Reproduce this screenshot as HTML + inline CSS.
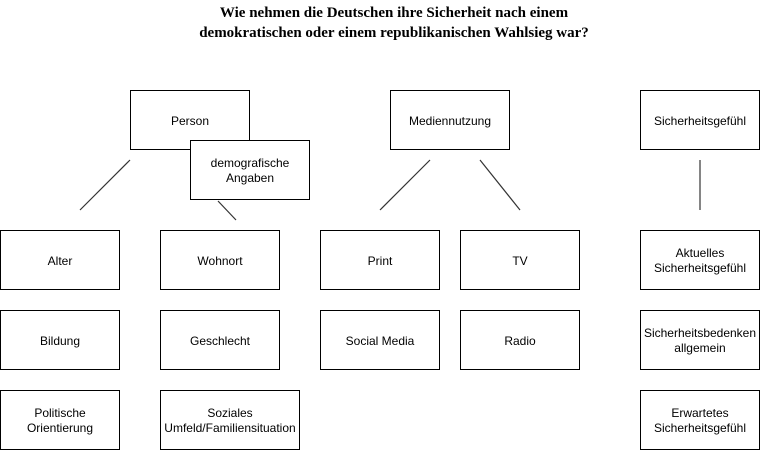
<!DOCTYPE html>
<html><head><meta charset="utf-8"><style>
body{margin:0;background:#fff;width:761px;height:451px;overflow:hidden;position:relative;font-family:"Liberation Sans",Arial,sans-serif}
.t{position:absolute;left:94px;width:600px;text-align:center;font:bold 15px/20px "Liberation Serif",serif;top:3px;color:#000}
.b{position:absolute;width:118px;height:58px;border:1px solid #000;background:#fff;display:flex;align-items:center;justify-content:center;text-align:center;font-size:12px;line-height:15px;color:#000;white-space:nowrap}
.b span{position:relative;top:1px}
svg{position:absolute;left:0;top:0}
</style></head><body>
<div class="t">Wie nehmen die Deutschen ihre Sicherheit nach einem<br>demokratischen oder einem republikanischen Wahlsieg war?</div>
<svg width="761" height="451"><g stroke="#333" stroke-width="1.2">
<line x1="130" y1="160" x2="80" y2="210"/>
<line x1="218" y1="201" x2="236" y2="220"/>
<line x1="430" y1="160" x2="380" y2="210"/>
<line x1="480" y1="160" x2="520" y2="210"/>
<line x1="700" y1="160" x2="700" y2="210"/>
</g></svg>
<div class="b" style="left:130px;top:90px"><span>Person</span></div>
<div class="b" style="left:190px;top:140px"><span>demografische<br>Angaben</span></div>
<div class="b" style="left:390px;top:90px"><span>Mediennutzung</span></div>
<div class="b" style="left:640px;top:90px"><span>Sicherheitsgefühl</span></div>
<div class="b" style="left:0;top:230px"><span>Alter</span></div>
<div class="b" style="left:160px;top:230px"><span>Wohnort</span></div>
<div class="b" style="left:320px;top:230px"><span>Print</span></div>
<div class="b" style="left:460px;top:230px"><span>TV</span></div>
<div class="b" style="left:640px;top:230px"><span>Aktuelles<br>Sicherheitsgefühl</span></div>
<div class="b" style="left:0;top:310px"><span>Bildung</span></div>
<div class="b" style="left:160px;top:310px"><span>Geschlecht</span></div>
<div class="b" style="left:320px;top:310px"><span>Social Media</span></div>
<div class="b" style="left:460px;top:310px"><span>Radio</span></div>
<div class="b" style="left:640px;top:310px"><span>Sicherheitsbedenken<br>allgemein</span></div>
<div class="b" style="left:0;top:390px"><span>Politische<br>Orientierung</span></div>
<div class="b" style="left:160px;top:390px;width:138px"><span>Soziales<br>Umfeld/Familiensituation</span></div>
<div class="b" style="left:640px;top:390px"><span>Erwartetes<br>Sicherheitsgefühl</span></div>
</body></html>
